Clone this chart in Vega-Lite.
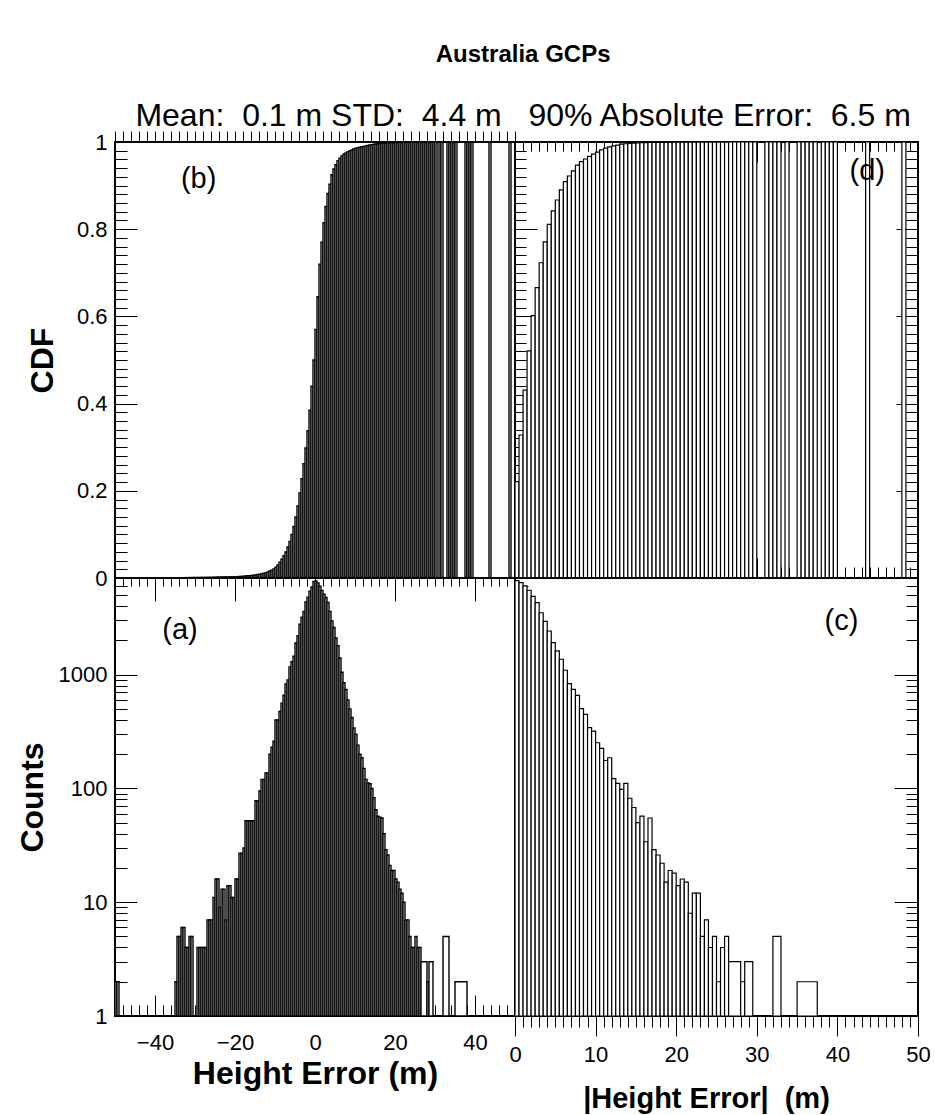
{
"$schema":"https://vega.github.io/schema/vega-lite/v6.json",
"background":"white",
"padding":{"left":15,"top":42,"right":8,"bottom":3},
"config":{"font":"Liberation Sans","view":{"stroke":"black","strokeWidth":2},
"axis":{"domain":false,"grid":false,"tickColor":"black","tickWidth":1,"labelColor":"black","titleColor":"black","labelFont":"Liberation Sans","titleFont":"Liberation Sans","labelFontSize":22,"titleFontSize":32,"titleFontWeight":"bold","labelOverlap":false,"labelFlush":false,"labelBound":false,"minExtent":0}},
"title":{"text":"Australia GCPs","subtitle":"Mean:\u00a0 0.1 m STD:\u00a0 4.4 m \u00a0 90% Absolute Error:\u00a0 6.5 m","font":"Liberation Sans","fontSize":24,"fontWeight":"bold","color":"black","subtitleFont":"Liberation Sans","subtitleFontSize":32,"subtitleColor":"black","subtitlePadding":34,"anchor":"middle","offset":-2,"dx":50},
"columns":2,"spacing":0,"bounds":"flush","align":"each",
"concat":[
{"width":400,"height":436,"resolve":{"axis":{"x":"independent","y":"independent"}},
"layer":[
{"data":{"values":[
{"x0":-35,"x1":-34.5,"p":0.0003},{"x0":-34.5,"x1":-34,"p":0.0004},{"x0":-34,"x1":-33.5,"p":0.0005},{"x0":-33.5,"x1":-33,"p":0.0006},{"x0":-33,"x1":-32.5,"p":0.0007},{"x0":-32.5,"x1":-32,"p":0.0008},{"x0":-32,"x1":-31.5,"p":0.0009},{"x0":-31.5,"x1":-31,"p":0.001},{"x0":-31,"x1":-30.5,"p":0.0011},{"x0":-30.5,"x1":-30,"p":0.0011},{"x0":-30,"x1":-29.5,"p":0.0011},{"x0":-29.5,"x1":-29,"p":0.0012},{"x0":-29,"x1":-28.5,"p":0.0012},{"x0":-28.5,"x1":-28,"p":0.0013},{"x0":-28,"x1":-27.5,"p":0.0013},{"x0":-27.5,"x1":-27,"p":0.0014},{"x0":-27,"x1":-26.5,"p":0.0015},{"x0":-26.5,"x1":-26,"p":0.0015},{"x0":-26,"x1":-25.5,"p":0.0016},{"x0":-25.5,"x1":-25,"p":0.0017},{"x0":-25,"x1":-24.5,"p":0.0019},{"x0":-24.5,"x1":-24,"p":0.002},{"x0":-24,"x1":-23.5,"p":0.0021},{"x0":-23.5,"x1":-23,"p":0.0022},{"x0":-23,"x1":-22.5,"p":0.0023},{"x0":-22.5,"x1":-22,"p":0.0024},{"x0":-22,"x1":-21.5,"p":0.0025},{"x0":-21.5,"x1":-21,"p":0.0026},{"x0":-21,"x1":-20.5,"p":0.0027},{"x0":-20.5,"x1":-20,"p":0.0028},{"x0":-20,"x1":-19.5,"p":0.003},{"x0":-19.5,"x1":-19,"p":0.0031},{"x0":-19,"x1":-18.5,"p":0.0034},{"x0":-18.5,"x1":-18,"p":0.0037},{"x0":-18,"x1":-17.5,"p":0.004},{"x0":-17.5,"x1":-17,"p":0.0045},{"x0":-17,"x1":-16.5,"p":0.005},{"x0":-16.5,"x1":-16,"p":0.0055},{"x0":-16,"x1":-15.5,"p":0.006},{"x0":-15.5,"x1":-15,"p":0.0065},{"x0":-15,"x1":-14.5,"p":0.0072},{"x0":-14.5,"x1":-14,"p":0.008},{"x0":-14,"x1":-13.5,"p":0.009},{"x0":-13.5,"x1":-13,"p":0.01},{"x0":-13,"x1":-12.5,"p":0.011},{"x0":-12.5,"x1":-12,"p":0.012},{"x0":-12,"x1":-11.5,"p":0.014},{"x0":-11.5,"x1":-11,"p":0.016},{"x0":-11,"x1":-10.5,"p":0.018},{"x0":-10.5,"x1":-10,"p":0.021},{"x0":-10,"x1":-9.5,"p":0.025},{"x0":-9.5,"x1":-9,"p":0.03},{"x0":-9,"x1":-8.5,"p":0.036},{"x0":-8.5,"x1":-8,"p":0.043},{"x0":-8,"x1":-7.5,"p":0.051},{"x0":-7.5,"x1":-7,"p":0.06},{"x0":-7,"x1":-6.5,"p":0.071},{"x0":-6.5,"x1":-6,"p":0.084},{"x0":-6,"x1":-5.5,"p":0.1},{"x0":-5.5,"x1":-5,"p":0.118},{"x0":-5,"x1":-4.5,"p":0.14},{"x0":-4.5,"x1":-4,"p":0.165},{"x0":-4,"x1":-3.5,"p":0.195},{"x0":-3.5,"x1":-3,"p":0.228},{"x0":-3,"x1":-2.5,"p":0.262},{"x0":-2.5,"x1":-2,"p":0.298},{"x0":-2,"x1":-1.5,"p":0.338},{"x0":-1.5,"x1":-1,"p":0.385},{"x0":-1,"x1":-0.5,"p":0.44},{"x0":-0.5,"x1":0,"p":0.5},
{"x0":0,"x1":0.5,"p":0.57},{"x0":0.5,"x1":1,"p":0.645},{"x0":1,"x1":1.5,"p":0.72},{"x0":1.5,"x1":2,"p":0.77},{"x0":2,"x1":2.5,"p":0.815},{"x0":2.5,"x1":3,"p":0.852},{"x0":3,"x1":3.5,"p":0.882},{"x0":3.5,"x1":4,"p":0.903},{"x0":4,"x1":4.5,"p":0.925},{"x0":4.5,"x1":5,"p":0.938},{"x0":5,"x1":5.5,"p":0.948},{"x0":5.5,"x1":6,"p":0.957},{"x0":6,"x1":6.5,"p":0.963},{"x0":6.5,"x1":7,"p":0.968},{"x0":7,"x1":7.5,"p":0.972},{"x0":7.5,"x1":8,"p":0.975},{"x0":8,"x1":8.5,"p":0.978},{"x0":8.5,"x1":9,"p":0.98},{"x0":9,"x1":9.5,"p":0.982},{"x0":9.5,"x1":10,"p":0.984},{"x0":10,"x1":10.5,"p":0.986},{"x0":10.5,"x1":11,"p":0.987},{"x0":11,"x1":11.5,"p":0.988},{"x0":11.5,"x1":12,"p":0.989},{"x0":12,"x1":12.5,"p":0.99},{"x0":12.5,"x1":13,"p":0.991},{"x0":13,"x1":13.5,"p":0.992},{"x0":13.5,"x1":14,"p":0.993},{"x0":14,"x1":14.5,"p":0.994},{"x0":14.5,"x1":15,"p":0.995},{"x0":15,"x1":15.5,"p":0.9955},{"x0":15.5,"x1":16,"p":0.996},{"x0":16,"x1":16.5,"p":0.9965},{"x0":16.5,"x1":17,"p":0.997},{"x0":17,"x1":17.5,"p":0.9973},{"x0":17.5,"x1":18,"p":0.9976},{"x0":18,"x1":18.5,"p":0.9979},{"x0":18.5,"x1":19,"p":0.9982},{"x0":19,"x1":19.5,"p":0.9984},{"x0":19.5,"x1":20,"p":0.9986},{"x0":20,"x1":20.5,"p":0.9988},{"x0":20.5,"x1":21,"p":0.999},{"x0":21,"x1":21.5,"p":0.9991},{"x0":21.5,"x1":22,"p":0.9992},{"x0":22,"x1":22.5,"p":0.9993},{"x0":22.5,"x1":23,"p":0.9994},{"x0":23,"x1":23.5,"p":0.9995},{"x0":23.5,"x1":24,"p":0.9995},{"x0":24,"x1":24.5,"p":0.9996},{"x0":24.5,"x1":25,"p":0.9996},{"x0":25,"x1":25.5,"p":0.9997},{"x0":25.5,"x1":26,"p":0.9997},{"x0":26,"x1":26.5,"p":0.9998},{"x0":26.5,"x1":27,"p":0.9998},{"x0":27,"x1":27.5,"p":0.9998},{"x0":27.5,"x1":28,"p":0.9999},{"x0":28,"x1":28.5,"p":0.9999},{"x0":28.5,"x1":29,"p":0.9999},{"x0":29,"x1":29.5,"p":1},{"x0":29.5,"x1":30,"p":1},
{"x0":30,"x1":30.5,"p":1},{"x0":31,"x1":31.5,"p":1},{"x0":31.5,"x1":32,"p":1},{"x0":33,"x1":33.5,"p":1},{"x0":33.5,"x1":34,"p":1},{"x0":34,"x1":34.5,"p":1},{"x0":34.5,"x1":35,"p":1},{"x0":35,"x1":35.5,"p":1},{"x0":37.5,"x1":38,"p":1},{"x0":38,"x1":38.5,"p":1},{"x0":38.5,"x1":39,"p":1},{"x0":39,"x1":39.5,"p":1},{"x0":43.5,"x1":44,"p":1},{"x0":48.5,"x1":49,"p":1}
]},
"mark":{"type":"bar","fill":"white","stroke":"black","strokeWidth":1.4,"clip":true},
"encoding":{
"x":{"field":"x0","type":"quantitative","scale":{"domain":[-50,50],"nice":false,"zero":false},
"axis":{"orient":"top","values":[-50,-48,-46,-44,-42,-40,-38,-36,-34,-32,-30,-28,-26,-24,-22,-20,-18,-16,-14,-12,-10,-8,-6,-4,-2,0,2,4,6,8,10,12,14,16,18,20,22,24,26,28,30,32,34,36,38,40,42,44,46,48,50],"tickSize":11,"labels":false,"title":null}},
"x2":{"field":"x1"},
"y":{"field":"p","type":"quantitative","scale":{"domain":[0,1],"nice":false},
"axis":{"orient":"left","values":[0,0.02,0.04,0.06,0.08,0.1,0.12,0.14,0.16,0.18,0.2,0.22,0.24,0.26,0.28,0.3,0.32,0.34,0.36,0.38,0.4,0.42,0.44,0.46,0.48,0.5,0.52,0.54,0.56,0.58,0.6,0.62,0.64,0.66,0.68,0.7,0.72,0.74,0.76,0.78,0.8,0.82,0.84,0.86,0.88,0.9,0.92,0.94,0.96,0.98,1],
"tickSize":{"condition":{"test":"abs(datum.value*5-round(datum.value*5))<0.001","value":-22},"value":-12},
"labelPadding":30,"labelExpr":"abs(datum.value*5-round(datum.value*5))<0.001 ? format(datum.value,'~g') : ''",
"title":"CDF","titleAngle":270,"titleBaseline":"middle","titleAlign":"center","titleX":-73,"titleY":218}},
"y2":{"datum":0}}},
{"data":{"values":[{"t":"(b)","x":-29.1,"y":0.915}]},
"mark":{"type":"text","fontSize":29,"font":"Liberation Sans","color":"black","align":"center","baseline":"middle"},
"encoding":{"x":{"field":"x","type":"quantitative","axis":null},"y":{"field":"y","type":"quantitative","axis":null},"text":{"field":"t"}}}
]},
{"width":403,"height":436,"resolve":{"axis":{"x":"independent","y":"independent"}},
"layer":[
{"data":{"values":[
{"x0":0,"x1":0.5,"p":0.221},{"x0":0.5,"x1":1,"p":0.328},{"x0":1,"x1":1.5,"p":0.431},{"x0":1.5,"x1":2,"p":0.521},{"x0":2,"x1":2.5,"p":0.602},{"x0":2.5,"x1":3,"p":0.666},{"x0":3,"x1":3.5,"p":0.723},{"x0":3.5,"x1":4,"p":0.771},{"x0":4,"x1":4.5,"p":0.811},{"x0":4.5,"x1":5,"p":0.842},{"x0":5,"x1":5.5,"p":0.867},{"x0":5.5,"x1":6,"p":0.89},{"x0":6,"x1":6.5,"p":0.909},{"x0":6.5,"x1":7,"p":0.922},{"x0":7,"x1":7.5,"p":0.934},{"x0":7.5,"x1":8,"p":0.947},{"x0":8,"x1":8.5,"p":0.955},{"x0":8.5,"x1":9,"p":0.961},{"x0":9,"x1":9.5,"p":0.967},{"x0":9.5,"x1":10,"p":0.972},{"x0":10,"x1":10.5,"p":0.977},{"x0":10.5,"x1":11,"p":0.982},{"x0":11,"x1":11.5,"p":0.986},{"x0":11.5,"x1":12,"p":0.989},{"x0":12,"x1":12.5,"p":0.991},{"x0":12.5,"x1":13,"p":0.993},{"x0":13,"x1":13.5,"p":0.995},{"x0":13.5,"x1":14,"p":0.996},{"x0":14,"x1":14.5,"p":0.997},{"x0":14.5,"x1":15,"p":0.9975},{"x0":15,"x1":15.5,"p":0.998},{"x0":15.5,"x1":16,"p":0.9983},{"x0":16,"x1":16.5,"p":0.9986},{"x0":16.5,"x1":17,"p":0.9988},{"x0":17,"x1":17.5,"p":0.999},{"x0":17.5,"x1":18,"p":0.9991},{"x0":18,"x1":18.5,"p":0.9992},{"x0":18.5,"x1":19,"p":0.9993},{"x0":19,"x1":19.5,"p":0.9994},{"x0":19.5,"x1":20,"p":0.9995},{"x0":20,"x1":20.5,"p":0.9995},{"x0":20.5,"x1":21,"p":0.9996},{"x0":21,"x1":21.5,"p":0.9996},{"x0":21.5,"x1":22,"p":0.9997},{"x0":22,"x1":22.5,"p":0.9997},{"x0":22.5,"x1":23,"p":0.9998},{"x0":23,"x1":23.5,"p":0.9998},{"x0":23.5,"x1":24,"p":0.9998},{"x0":24,"x1":24.5,"p":0.9999},{"x0":24.5,"x1":25,"p":0.9999},{"x0":25,"x1":25.5,"p":0.9999},{"x0":25.5,"x1":26,"p":0.9999},{"x0":26,"x1":26.5,"p":0.9999},{"x0":26.5,"x1":27,"p":1},{"x0":27,"x1":27.5,"p":1},{"x0":27.5,"x1":28,"p":1},{"x0":28,"x1":28.5,"p":1},{"x0":28.5,"x1":29,"p":1},{"x0":29,"x1":29.5,"p":1},{"x0":29.5,"x1":30,"p":1},
{"x0":31,"x1":31.5,"p":1},{"x0":31.5,"x1":32,"p":1},{"x0":32,"x1":32.5,"p":1},{"x0":32.5,"x1":33,"p":1},{"x0":33.5,"x1":34,"p":1},{"x0":35,"x1":35.5,"p":1},{"x0":35.5,"x1":36,"p":1},{"x0":36,"x1":36.5,"p":1},{"x0":36.5,"x1":37,"p":1},{"x0":37,"x1":37.5,"p":1},{"x0":38,"x1":38.5,"p":1},{"x0":38.5,"x1":39,"p":1},{"x0":39,"x1":39.5,"p":1},{"x0":39.5,"x1":40,"p":1},{"x0":43.5,"x1":44,"p":1},{"x0":48,"x1":48.5,"p":1}
]},
"mark":{"type":"bar","fill":"white","stroke":"black","strokeWidth":1.2,"clip":true},
"encoding":{
"x":{"field":"x0","type":"quantitative","scale":{"domain":[0,50],"nice":false,"zero":false},
"axis":{"orient":"bottom","values":[0,1,2,3,4,5,6,7,8,9,10,11,12,13,14,15,16,17,18,19,20,21,22,23,24,25,26,27,28,29,30,31,32,33,34,35,36,37,38,39,40,41,42,43,44,45,46,47,48,49,50],"tickSize":{"condition":{"test":"datum.value % 10 === 0","value":-20},"value":-11},"labels":false,"title":null}},
"x2":{"field":"x1"},
"y":{"field":"p","type":"quantitative","scale":{"domain":[0,1],"nice":false},
"axis":{"orient":"left","values":[0,0.02,0.04,0.06,0.08,0.1,0.12,0.14,0.16,0.18,0.2,0.22,0.24,0.26,0.28,0.3,0.32,0.34,0.36,0.38,0.4,0.42,0.44,0.46,0.48,0.5,0.52,0.54,0.56,0.58,0.6,0.62,0.64,0.66,0.68,0.7,0.72,0.74,0.76,0.78,0.8,0.82,0.84,0.86,0.88,0.9,0.92,0.94,0.96,0.98,1],
"tickSize":{"condition":{"test":"abs(datum.value*5-round(datum.value*5))<0.001","value":-22},"value":-11},"labels":false,"title":null}},
"y2":{"datum":0}}},
{"data":{"values":[{"t":"(d)","x":43.7,"y":0.933}]},
"mark":{"type":"text","fontSize":29,"font":"Liberation Sans","color":"black","align":"center","baseline":"middle"},
"encoding":{"x":{"field":"x","type":"quantitative","axis":{"orient":"top","values":[0,1,2,3,4,5,6,7,8,9,10,11,12,13,14,15,16,17,18,19,20,21,22,23,24,25,26,27,28,29,30,31,32,33,34,35,36,37,38,39,40,41,42,43,44,45,46,47,48,49,50],"tickSize":{"condition":{"test":"datum.value % 10 === 0","value":-20},"value":-9},"labels":false,"title":null}},
"y":{"field":"y","type":"quantitative","axis":{"orient":"right","values":[0,0.02,0.04,0.06,0.08,0.1,0.12,0.14,0.16,0.18,0.2,0.22,0.24,0.26,0.28,0.3,0.32,0.34,0.36,0.38,0.4,0.42,0.44,0.46,0.48,0.5,0.52,0.54,0.56,0.58,0.6,0.62,0.64,0.66,0.68,0.7,0.72,0.74,0.76,0.78,0.8,0.82,0.84,0.86,0.88,0.9,0.92,0.94,0.96,0.98,1],"tickSize":{"condition":{"test":"abs(datum.value*5-round(datum.value*5))<0.001","value":-22},"value":-12},"labels":false,"title":null}},
"text":{"field":"t"}}}
]},
{"width":400,"height":438,"resolve":{"axis":{"x":"independent","y":"independent"}},
"layer":[
{"data":{"values":[
{"x0":-50,"x1":-49.5,"n":2},{"x0":-49.5,"x1":-49,"n":2},
{"x0":-35,"x1":-34.5,"n":2},{"x0":-34.5,"x1":-34,"n":5},{"x0":-34,"x1":-33.5,"n":5},{"x0":-33.5,"x1":-33,"n":6},{"x0":-33,"x1":-32.5,"n":6},{"x0":-32.5,"x1":-32,"n":4},{"x0":-32,"x1":-31.5,"n":4},{"x0":-31.5,"x1":-31,"n":5},{"x0":-31,"x1":-30.5,"n":5},{"x0":-30.5,"x1":-30,"n":1},{"x0":-30,"x1":-29.5,"n":1},{"x0":-29.5,"x1":-29,"n":4},{"x0":-29,"x1":-28.5,"n":4},{"x0":-28.5,"x1":-28,"n":4},{"x0":-28,"x1":-27.5,"n":4},{"x0":-27.5,"x1":-27,"n":4},{"x0":-27,"x1":-26.5,"n":7},{"x0":-26.5,"x1":-26,"n":7},{"x0":-26,"x1":-25.5,"n":7},{"x0":-25.5,"x1":-25,"n":11},{"x0":-25,"x1":-24.5,"n":16},{"x0":-24.5,"x1":-24,"n":16},{"x0":-24,"x1":-23.5,"n":9},{"x0":-23.5,"x1":-23,"n":13},{"x0":-23,"x1":-22.5,"n":13},{"x0":-22.5,"x1":-22,"n":7},{"x0":-22,"x1":-21.5,"n":14},{"x0":-21.5,"x1":-21,"n":14},{"x0":-21,"x1":-20.5,"n":11},{"x0":-20.5,"x1":-20,"n":11},{"x0":-20,"x1":-19.5,"n":16},{"x0":-19.5,"x1":-19,"n":16},{"x0":-19,"x1":-18.5,"n":27},{"x0":-18.5,"x1":-18,"n":27},{"x0":-18,"x1":-17.5,"n":30},{"x0":-17.5,"x1":-17,"n":52},{"x0":-17,"x1":-16.5,"n":52},{"x0":-16.5,"x1":-16,"n":52},{"x0":-16,"x1":-15.5,"n":52},{"x0":-15.5,"x1":-15,"n":52},{"x0":-15,"x1":-14.5,"n":78},{"x0":-14.5,"x1":-14,"n":78},{"x0":-14,"x1":-13.5,"n":95},{"x0":-13.5,"x1":-13,"n":120},{"x0":-13,"x1":-12.5,"n":120},{"x0":-12.5,"x1":-12,"n":137},{"x0":-12,"x1":-11.5,"n":137},{"x0":-11.5,"x1":-11,"n":200},{"x0":-11,"x1":-10.5,"n":230},{"x0":-10.5,"x1":-10,"n":260},{"x0":-10,"x1":-9.5,"n":400},{"x0":-9.5,"x1":-9,"n":400},{"x0":-9,"x1":-8.5,"n":475},{"x0":-8.5,"x1":-8,"n":560},{"x0":-8,"x1":-7.5,"n":660},{"x0":-7.5,"x1":-7,"n":830},{"x0":-7,"x1":-6.5,"n":900},{"x0":-6.5,"x1":-6,"n":1170},{"x0":-6,"x1":-5.5,"n":1300},{"x0":-5.5,"x1":-5,"n":1450},{"x0":-5,"x1":-4.5,"n":1900},{"x0":-4.5,"x1":-4,"n":2200},{"x0":-4,"x1":-3.5,"n":2770},{"x0":-3.5,"x1":-3,"n":3200},{"x0":-3,"x1":-2.5,"n":3600},{"x0":-2.5,"x1":-2,"n":4350},{"x0":-2,"x1":-1.5,"n":4800},{"x0":-1.5,"x1":-1,"n":5400},{"x0":-1,"x1":-0.5,"n":5900},{"x0":-0.5,"x1":0,"n":6600},
{"x0":0,"x1":0.5,"n":6650},{"x0":0.5,"x1":1,"n":6400},{"x0":1,"x1":1.5,"n":6000},{"x0":1.5,"x1":2,"n":5500},{"x0":2,"x1":2.5,"n":5100},{"x0":2.5,"x1":3,"n":4760},{"x0":3,"x1":3.5,"n":4300},{"x0":3.5,"x1":4,"n":3600},{"x0":4,"x1":4.5,"n":2970},{"x0":4.5,"x1":5,"n":2600},{"x0":5,"x1":5.5,"n":2100},{"x0":5.5,"x1":6,"n":1800},{"x0":6,"x1":6.5,"n":1400},{"x0":6.5,"x1":7,"n":1050},{"x0":7,"x1":7.5,"n":850},{"x0":7.5,"x1":8,"n":740},{"x0":8,"x1":8.5,"n":600},{"x0":8.5,"x1":9,"n":500},{"x0":9,"x1":9.5,"n":420},{"x0":9.5,"x1":10,"n":340},{"x0":10,"x1":10.5,"n":300},{"x0":10.5,"x1":11,"n":240},{"x0":11,"x1":11.5,"n":200},{"x0":11.5,"x1":12,"n":186},{"x0":12,"x1":12.5,"n":150},{"x0":12.5,"x1":13,"n":120},{"x0":13,"x1":13.5,"n":112},{"x0":13.5,"x1":14,"n":110},{"x0":14,"x1":14.5,"n":100},{"x0":14.5,"x1":15,"n":83},{"x0":15,"x1":15.5,"n":65},{"x0":15.5,"x1":16,"n":57},{"x0":16,"x1":16.5,"n":56},{"x0":16.5,"x1":17,"n":55},{"x0":17,"x1":17.5,"n":40},{"x0":17.5,"x1":18,"n":29},{"x0":18,"x1":18.5,"n":26},{"x0":18.5,"x1":19,"n":21},{"x0":19,"x1":19.5,"n":19},{"x0":19.5,"x1":20,"n":19},{"x0":20,"x1":20.5,"n":16},{"x0":20.5,"x1":21,"n":15},{"x0":21,"x1":21.5,"n":13},{"x0":21.5,"x1":22,"n":12},{"x0":22,"x1":22.5,"n":10},{"x0":22.5,"x1":23,"n":7},{"x0":23,"x1":23.5,"n":7},{"x0":23.5,"x1":24,"n":5},{"x0":24,"x1":24.5,"n":4},{"x0":24.5,"x1":25,"n":4},{"x0":25,"x1":25.5,"n":5},{"x0":25.5,"x1":26,"n":4},{"x0":26,"x1":26.5,"n":4},
{"x0":26.5,"x1":28,"n":3},{"x0":28,"x1":28.5,"n":2},{"x0":28.5,"x1":29.5,"n":3},{"x0":32,"x1":33.5,"n":5},{"x0":35,"x1":38,"n":2}
]},
"mark":{"type":"bar","fill":"white","stroke":"black","strokeWidth":1.4,"clip":true},
"encoding":{
"x":{"field":"x0","type":"quantitative","scale":{"domain":[-50,50],"nice":false,"zero":false},
"axis":{"orient":"bottom","values":[-50,-48,-46,-44,-42,-40,-38,-36,-34,-32,-30,-28,-26,-24,-22,-20,-18,-16,-14,-12,-10,-8,-6,-4,-2,0,2,4,6,8,10,12,14,16,18,20,22,24,26,28,30,32,34,36,38,40,42,44,46,48,50],
"tickSize":{"condition":{"test":"datum.value % 20 === 0","value":-21},"value":-11},"labelPadding":37,
"labelExpr":"datum.value % 20 === 0 ? datum.label : ''","title":"Height Error (m)","titleBaseline":"alphabetic","titleY":67}},
"x2":{"field":"x1"},
"y":{"field":"n","type":"quantitative","scale":{"type":"log","domain":[1,7070],"nice":false},
"axis":{"orient":"left","values":[1,2,3,4,5,6,7,8,9,10,20,30,40,50,60,70,80,90,100,200,300,400,500,600,700,800,900,1000,2000,3000,4000,5000,6000,7000],"format":"d",
"tickSize":{"condition":{"test":"indexof([1,10,100,1000],datum.value)>=0","value":-22},"value":-12},"labelPadding":30,
"labelExpr":"indexof([1,10,100,1000],datum.value)>=0 ? datum.label : ''",
"title":"Counts","titleAngle":270,"titleBaseline":"middle","titleAlign":"center","titleX":-83,"titleY":219}},
"y2":{"datum":1}}},
{"data":{"values":[{"t":"(a)","x":-33.75,"y":2466}]},
"mark":{"type":"text","fontSize":29,"font":"Liberation Sans","color":"black","align":"center","baseline":"middle"},
"encoding":{"x":{"field":"x","type":"quantitative","axis":{"orient":"top","values":[-50,-48,-46,-44,-42,-40,-38,-36,-34,-32,-30,-28,-26,-24,-22,-20,-18,-16,-14,-12,-10,-8,-6,-4,-2,0,2,4,6,8,10,12,14,16,18,20,22,24,26,28,30,32,34,36,38,40,42,44,46,48,50],"tickSize":{"condition":{"test":"datum.value % 20 === 0","value":-23},"value":-8},"labels":false,"title":null}},
"y":{"field":"y","type":"quantitative","axis":null},"text":{"field":"t"}}}
]},
{"width":403,"height":438,"resolve":{"axis":{"x":"independent","y":"independent"}},
"layer":[
{"data":{"values":[
{"x0":0,"x1":0.5,"n":6700},{"x0":0.5,"x1":1,"n":6440},{"x0":1,"x1":1.5,"n":6030},{"x0":1.5,"x1":2,"n":5520},{"x0":2,"x1":2.5,"n":4870},{"x0":2.5,"x1":3,"n":4290},{"x0":3,"x1":3.5,"n":3500},{"x0":3.5,"x1":4,"n":2940},{"x0":4,"x1":4.5,"n":2420},{"x0":4.5,"x1":5,"n":1910},{"x0":5,"x1":5.5,"n":1620},{"x0":5.5,"x1":6,"n":1365},{"x0":6,"x1":6.5,"n":1093},{"x0":6.5,"x1":7,"n":833},{"x0":7,"x1":7.5,"n":743},{"x0":7.5,"x1":8,"n":658},{"x0":8,"x1":8.5,"n":502},{"x0":8.5,"x1":9,"n":448},{"x0":9,"x1":9.5,"n":342},{"x0":9.5,"x1":10,"n":319},{"x0":10,"x1":10.5,"n":252},{"x0":10.5,"x1":11,"n":225},{"x0":11,"x1":11.5,"n":176},{"x0":11.5,"x1":12,"n":186},{"x0":12,"x1":12.5,"n":122},{"x0":12.5,"x1":13,"n":111},{"x0":13,"x1":13.5,"n":98},{"x0":13.5,"x1":14,"n":111},{"x0":14,"x1":14.5,"n":82},{"x0":14.5,"x1":15,"n":68},{"x0":15,"x1":15.5,"n":50},{"x0":15.5,"x1":16,"n":57},{"x0":16,"x1":16.5,"n":34},{"x0":16.5,"x1":17,"n":55},{"x0":17,"x1":17.5,"n":29},{"x0":17.5,"x1":18,"n":26},{"x0":18,"x1":18.5,"n":22},{"x0":18.5,"x1":19,"n":15},{"x0":19,"x1":19.5,"n":19},{"x0":19.5,"x1":20,"n":18},{"x0":20,"x1":20.5,"n":14},{"x0":20.5,"x1":21,"n":16},{"x0":21,"x1":21.5,"n":15},{"x0":21.5,"x1":22,"n":8},{"x0":22,"x1":22.5,"n":12},{"x0":22.5,"x1":23,"n":12},{"x0":23,"x1":23.5,"n":5},{"x0":23.5,"x1":24,"n":7},{"x0":24,"x1":24.5,"n":4},{"x0":24.5,"x1":25,"n":5},{"x0":25,"x1":25.5,"n":2},{"x0":25.5,"x1":26,"n":4},{"x0":26,"x1":26.5,"n":5},
{"x0":26.5,"x1":28,"n":3},{"x0":28,"x1":28.5,"n":2},{"x0":28.5,"x1":29.5,"n":3},{"x0":32,"x1":33,"n":5},{"x0":35,"x1":37.5,"n":2}
]},
"mark":{"type":"bar","fill":"white","stroke":"black","strokeWidth":1.2,"clip":true},
"encoding":{
"x":{"field":"x0","type":"quantitative","scale":{"domain":[0,50],"nice":false,"zero":false},
"axis":{"orient":"bottom","values":[0,1,2,3,4,5,6,7,8,9,10,11,12,13,14,15,16,17,18,19,20,21,22,23,24,25,26,27,28,29,30,31,32,33,34,35,36,37,38,39,40,41,42,43,44,45,46,47,48,49,50],
"tickSize":{"condition":{"test":"datum.value % 10 === 0","value":20},"value":11},"labelPadding":8,
"labelExpr":"datum.value % 10 === 0 ? datum.label : ''","title":"|Height Error|\u00a0 (m)","titleFontSize":29,"titleX":191,"titleY":91,"titleBaseline":"alphabetic"}},
"x2":{"field":"x1"},
"y":{"field":"n","type":"quantitative","scale":{"type":"log","domain":[1,7070],"nice":false},
"axis":{"orient":"left","values":[1,2,3,4,5,6,7,8,9,10,20,30,40,50,60,70,80,90,100,200,300,400,500,600,700,800,900,1000,2000,3000,4000,5000,6000,7000],
"tickSize":{"condition":{"test":"indexof([1,10,100,1000],datum.value)>=0","value":-23},"value":-13},"labels":false,"title":null}},
"y2":{"datum":1}}},
{"data":{"values":[{"t":"(c)","x":40.5,"y":2988}]},
"mark":{"type":"text","fontSize":29,"font":"Liberation Sans","color":"black","align":"center","baseline":"middle"},
"encoding":{"x":{"field":"x","type":"quantitative","axis":null},
"y":{"field":"y","type":"quantitative","axis":{"orient":"right","values":[1,2,3,4,5,6,7,8,9,10,20,30,40,50,60,70,80,90,100,200,300,400,500,600,700,800,900,1000,2000,3000,4000,5000,6000,7000],"tickSize":{"condition":{"test":"indexof([1,10,100,1000],datum.value)>=0","value":-24},"value":-12},"labels":false,"title":null}},
"text":{"field":"t"}}}
]}
]}
